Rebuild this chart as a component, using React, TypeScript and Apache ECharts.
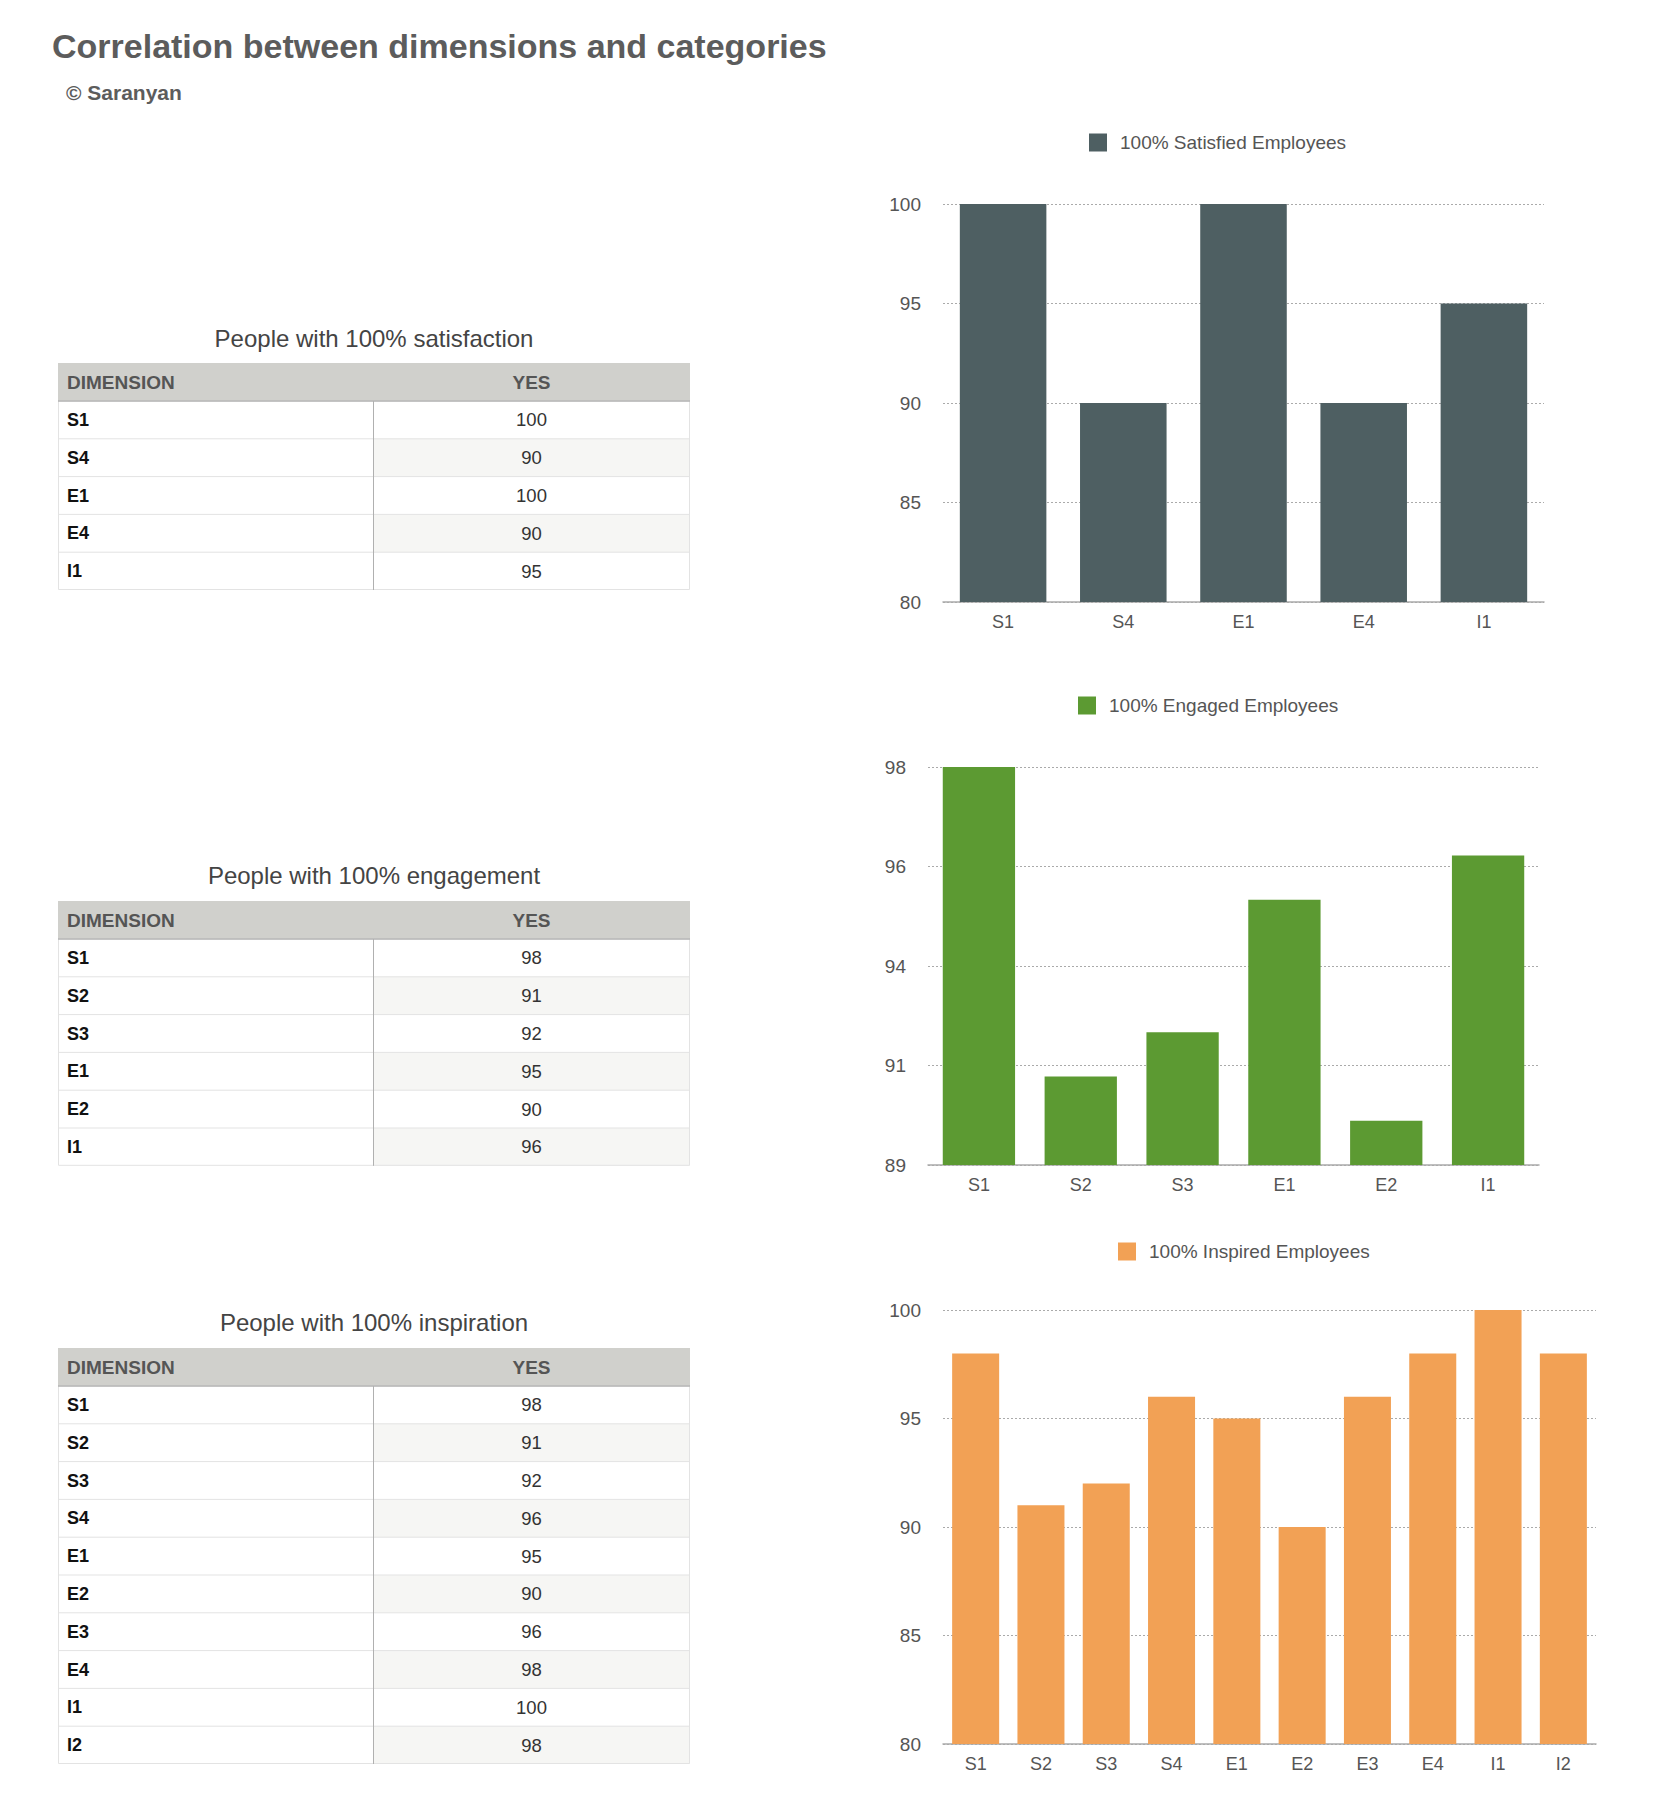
import React, { useEffect, useRef } from 'react';
import * as echarts from 'echarts';

const FONT = "'Liberation Sans', Arial, Helvetica, sans-serif";

// ---------- data ----------
const pageTitle = 'Correlation between dimensions and categories';
const pageCredit = '© Saranyan';

const satisfiedDims = ['S1', 'S4', 'E1', 'E4', 'I1'];
const satisfiedValues = [100, 90, 100, 90, 95];

const engagedDims = ['S1', 'S2', 'S3', 'E1', 'E2', 'I1'];
const engagedValues = [98, 91, 92, 95, 90, 96];

const inspiredDims = ['S1', 'S2', 'S3', 'S4', 'E1', 'E2', 'E3', 'E4', 'I1', 'I2'];
const inspiredValues = [98, 91, 92, 96, 95, 90, 96, 98, 100, 98];

const seriesNames = ['100% Satisfied Employees', '100% Engaged Employees', '100% Inspired Employees'];
const tableTitles = ['People with 100% satisfaction', 'People with 100% engagement', 'People with 100% inspiration'];
const tableHeaders = ['DIMENSION', 'YES'];

const satisfiedAxis = { min: 80, max: 100, interval: 5 };
const engagedTicks = [89, 91.25, 93.5, 95.75, 98];
const inspiredAxis = { min: 80, max: 100, interval: 5 };

// ---------- layout / style ----------
const W = 1658;
const H = 1814;
const COLORS = ['#4e5f62', '#5c9a32', '#f2a155'];
const TABLE_X = 58;
const TABLE_W = 632;
const DIVIDER_X = 373;
const HEADER_H = 38;
const ROW_H = 37.8;
const tableLayouts = [
  { titleY: 338, top: 363 },
  { titleY: 875, top: 901 },
  { titleY: 1322, top: 1348 },
];
const grids = [
  { left: 943, top: 204, width: 601, height: 398 },
  { left: 928, top: 767, width: 611, height: 398 },
  { left: 943, top: 1310, width: 653, height: 434 },
];
const legendPos = [
  { left: 1089, top: 133 },
  { left: 1078, top: 696 },
  { left: 1118, top: 1242 },
];

function buildTable(title: string, dims: string[], values: number[], layout: { titleY: number; top: number }) {
  const els: any[] = [];
  const { titleY, top } = layout;
  const bodyTop = top + HEADER_H;
  const bottom = bodyTop + dims.length * ROW_H;
  els.push({
    type: 'text',
    x: TABLE_X + TABLE_W / 2,
    y: titleY,
    style: { text: title, fill: '#444', fontSize: 24, fontFamily: FONT, align: 'center', verticalAlign: 'middle' },
  });
  els.push({
    type: 'rect',
    shape: { x: TABLE_X, y: top, width: TABLE_W, height: HEADER_H },
    style: { fill: '#d0d0cc' },
  });
  dims.forEach((d, i) => {
    const y = bodyTop + i * ROW_H;
    els.push({
      type: 'rect',
      shape: { x: DIVIDER_X, y, width: TABLE_X + TABLE_W - DIVIDER_X, height: ROW_H },
      style: { fill: i % 2 === 1 ? '#f6f6f4' : '#ffffff' },
    });
    if (i > 0) {
      els.push({
        type: 'line',
        shape: { x1: TABLE_X, y1: y, x2: TABLE_X + TABLE_W, y2: y },
        style: { stroke: '#e3e3e3', lineWidth: 1 },
      });
    }
    els.push({
      type: 'text',
      x: TABLE_X + 9,
      y: y + ROW_H / 2,
      style: { text: d, fill: '#111', fontSize: 18, fontWeight: 'bold', fontFamily: FONT, align: 'left', verticalAlign: 'middle' },
    });
    els.push({
      type: 'text',
      x: (DIVIDER_X + TABLE_X + TABLE_W) / 2,
      y: y + ROW_H / 2,
      style: { text: String(values[i]), fill: '#333', fontSize: 18.5, fontFamily: FONT, align: 'center', verticalAlign: 'middle' },
    });
  });
  els.push({
    type: 'rect',
    shape: { x: TABLE_X + 0.5, y: bodyTop, width: TABLE_W - 1, height: bottom - bodyTop - 0.5 },
    style: { fill: 'none', stroke: '#e3e3e3', lineWidth: 1 },
  });
  els.push({
    type: 'line',
    shape: { x1: TABLE_X, y1: bodyTop, x2: TABLE_X + TABLE_W, y2: bodyTop },
    style: { stroke: '#b4b4b4', lineWidth: 1.5 },
  });
  els.push({
    type: 'line',
    shape: { x1: DIVIDER_X + 0.5, y1: bodyTop, x2: DIVIDER_X + 0.5, y2: bottom },
    style: { stroke: '#b0b0b0', lineWidth: 1 },
  });
  els.push({
    type: 'text',
    x: TABLE_X + 9,
    y: top + HEADER_H / 2,
    style: { text: tableHeaders[0], fill: '#555', fontSize: 19, fontWeight: 'bold', fontFamily: FONT, align: 'left', verticalAlign: 'middle' },
  });
  els.push({
    type: 'text',
    x: (DIVIDER_X + TABLE_X + TABLE_W) / 2,
    y: top + HEADER_H / 2,
    style: { text: tableHeaders[1], fill: '#555', fontSize: 19, fontWeight: 'bold', fontFamily: FONT, align: 'center', verticalAlign: 'middle' },
  });
  return els;
}

const xAxisBase = (idx: number, data: string[]) => ({
  type: 'category',
  gridIndex: idx,
  data,
  axisLine: { show: true, lineStyle: { color: '#aaaaaa', width: 1.5 } },
  axisTick: { show: false },
  axisLabel: { color: '#555', fontSize: 18, fontFamily: FONT, margin: 11 },
  splitLine: { show: false },
});

const splitLineStyle = { show: true, lineStyle: { color: '#aaaaaa', type: [2, 2], width: 1 } };
const yLabel = { color: '#555', fontSize: 19, fontFamily: FONT, margin: 22 };

export default function App() {
  const ref = useRef<HTMLDivElement>(null);
  useEffect(() => {
    document.body.style.margin = '0';
    if (!ref.current) return;
    const chart = echarts.init(ref.current, undefined, { renderer: 'svg' });
    const graphics: any[] = [
      {
        type: 'text',
        x: 52,
        y: 46,
        style: { text: pageTitle, fill: '#5c5c5c', fontSize: 34, fontWeight: 'bold', fontFamily: FONT, align: 'left', verticalAlign: 'middle' },
      },
      {
        type: 'text',
        x: 66,
        y: 92,
        style: { text: pageCredit, fill: '#5c5c5c', fontSize: 21, fontWeight: 'bold', fontFamily: FONT, align: 'left', verticalAlign: 'middle' },
      },
      ...buildTable(tableTitles[0], satisfiedDims, satisfiedValues, tableLayouts[0]),
      ...buildTable(tableTitles[1], engagedDims, engagedValues, tableLayouts[1]),
      ...buildTable(tableTitles[2], inspiredDims, inspiredValues, tableLayouts[2]),
    ];
    const option: any = {
      animation: false,
      backgroundColor: '#ffffff',
      textStyle: { fontFamily: FONT },
      grid: grids.map((g) => ({ ...g, containLabel: false, outerBoundsMode: 'none' })),
      legend: seriesNames.map((n, i) => ({
        data: [n],
        left: legendPos[i].left,
        top: legendPos[i].top,
        padding: 0,
        icon: 'rect',
        itemWidth: 18,
        itemHeight: 18,
        selectedMode: false,
        textStyle: { color: '#555', fontSize: 19, fontFamily: FONT, padding: [0, 0, 0, 8] },
      })),
      xAxis: [xAxisBase(0, satisfiedDims), xAxisBase(1, engagedDims), xAxisBase(2, inspiredDims)],
      yAxis: [
        {
          type: 'value',
          gridIndex: 0,
          ...satisfiedAxis,
          axisLine: { show: false },
          axisTick: { show: false },
          axisLabel: yLabel,
          splitLine: splitLineStyle,
        },
        {
          type: 'value',
          gridIndex: 1,
          min: engagedTicks[0],
          max: engagedTicks[engagedTicks.length - 1],
          axisLine: { show: false },
          axisTick: { show: false, customValues: engagedTicks },
          axisLabel: { ...yLabel, customValues: engagedTicks, formatter: (v: number) => String(Math.round(v)) },
          splitLine: splitLineStyle,
        },
        {
          type: 'value',
          gridIndex: 2,
          ...inspiredAxis,
          axisLine: { show: false },
          axisTick: { show: false },
          axisLabel: yLabel,
          splitLine: splitLineStyle,
        },
      ],
      series: [
        { name: seriesNames[0], type: 'bar', xAxisIndex: 0, yAxisIndex: 0, data: satisfiedValues, barCategoryGap: '28%', itemStyle: { color: COLORS[0] } },
        { name: seriesNames[1], type: 'bar', xAxisIndex: 1, yAxisIndex: 1, data: engagedValues, barCategoryGap: '29%', itemStyle: { color: COLORS[1] } },
        { name: seriesNames[2], type: 'bar', xAxisIndex: 2, yAxisIndex: 2, data: inspiredValues, barCategoryGap: '28%', itemStyle: { color: COLORS[2] } },
      ],
      graphic: graphics,
    };
    chart.setOption(option);
    return () => chart.dispose();
  }, []);
  return <div ref={ref} style={{ width: W, height: H }} />;
}
